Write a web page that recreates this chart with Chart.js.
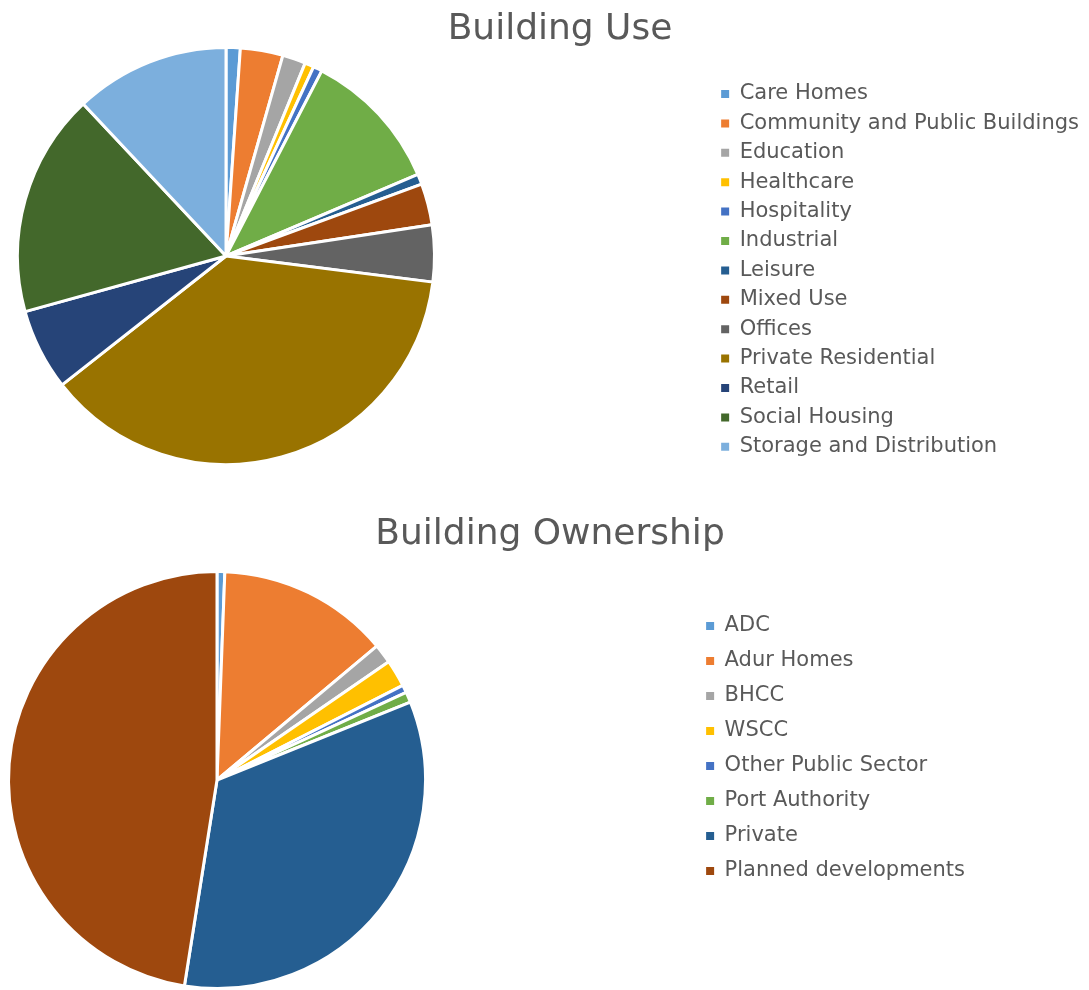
<!DOCTYPE html>
<html>
<head>
<meta charset="utf-8">
<title>Building Use and Ownership</title>
<script src="https://cdn.jsdelivr.net/npm/chart.js@4.4.1/dist/chart.umd.min.js"></script>
<style>
  html, body { margin: 0; padding: 0; background: #fff; overflow: hidden; }
  .box { position: absolute; left: 0; width: 1089px; }
  #useBox { top: 0; height: 490px; }
  #ownBox { top: 490px; height: 500px; }
</style>
</head>
<body>
<div class="box" id="useBox"><canvas id="useChart" width="1089" height="490"></canvas></div>
<div class="box" id="ownBox"><canvas id="ownChart" width="1089" height="500"></canvas></div>

<script>
// building use, % of total
var useLabels = ["Care Homes", "Community and Public Buildings", "Education", "Healthcare",
  "Hospitality", "Industrial", "Leisure", "Mixed Use", "Offices", "Private Residential",
  "Retail", "Social Housing", "Storage and Distribution"];
var useValues = [1.1, 3.3, 1.8, 0.7, 0.7, 11.0, 0.8, 3.2, 4.4, 37.4, 6.3, 17.3, 12.0];
var useColors = ["#5B9BD5", "#ED7D31", "#A5A5A5", "#FFC000", "#4472C4", "#70AD47",
  "#255E91", "#9E480E", "#636363", "#997300", "#264478", "#43682B", "#7CAFDD"];

// building ownership, % of total
var ownLabels = ["ADC", "Adur Homes", "BHCC", "WSCC", "Other Public Sector",
  "Port Authority", "Private", "Planned developments"];
var ownValues = [0.6, 13.3, 1.5, 2.1, 0.6, 0.8, 33.6, 47.5];
var ownColors = ["#5B9BD5", "#ED7D31", "#A5A5A5", "#FFC000", "#4472C4", "#70AD47",
  "#255E91", "#9E480E"];

Chart.defaults.font.family = "'DejaVu Sans', Verdana, sans-serif";
Chart.defaults.color = "#595959";

// keep the pie on the left, away from the legend
var pieArea = {
  id: "pieArea",
  afterLayout: function(chart, args, opts) {
    var a = chart.chartArea;
    a.left = opts.cx - opts.half;
    a.right = opts.cx + opts.half;
    a.top = opts.cy - opts.half;
    a.bottom = opts.cy + opts.half;
    a.width = a.right - a.left;
    a.height = a.bottom - a.top;
  }
};

// legend squares without the white slice border
function plainLabels(chart) {
  return Chart.overrides.pie.plugins.legend.labels.generateLabels(chart).map(function(l) {
    l.lineWidth = 0;
    return l;
  });
}

function makePie(id, title, labels, values, colors, o) {
  var ctx = document.getElementById(id);
  return new Chart(ctx, {
    type: "pie",
    data: {
      labels: labels,
      datasets: [{
        data: values,
        backgroundColor: colors,
        borderColor: "#ffffff",
        borderWidth: 3,
        radius: 208.5
      }]
    },
    options: {
      responsive: false,
      animation: false,
      layout: { padding: o.padding },
      plugins: {
        pieArea: o.pie,
        tooltip: { enabled: false },
        title: {
          display: true,
          text: title,
          color: "#595959",
          font: { size: 36, weight: "normal" },
          padding: { top: o.titleTop, bottom: 10 }
        },
        legend: {
          position: "right",
          align: "end",
          labels: {
            color: "#595959",
            font: { size: 21 },
            boxWidth: 8,
            boxHeight: 8,
            padding: o.itemGap,
            generateLabels: plainLabels
          }
        }
      }
    },
    plugins: [pieArea]
  });
}

makePie("useChart", "Building Use", useLabels, useValues, useColors, {
  padding: { left: 31, right: 0, top: 0, bottom: 24.3 },
  titleTop: 8.5,
  itemGap: 8.4,
  pie: { cx: 226, cy: 256, half: 215 }
});

makePie("ownChart", "Building Ownership", ownLabels, ownValues, ownColors, {
  padding: { left: 125, right: 114, top: 0, bottom: 94.5 },
  titleTop: 23.5,
  itemGap: 14,
  pie: { cx: 217, cy: 290, half: 215 }
});
</script>
</body>
</html>
